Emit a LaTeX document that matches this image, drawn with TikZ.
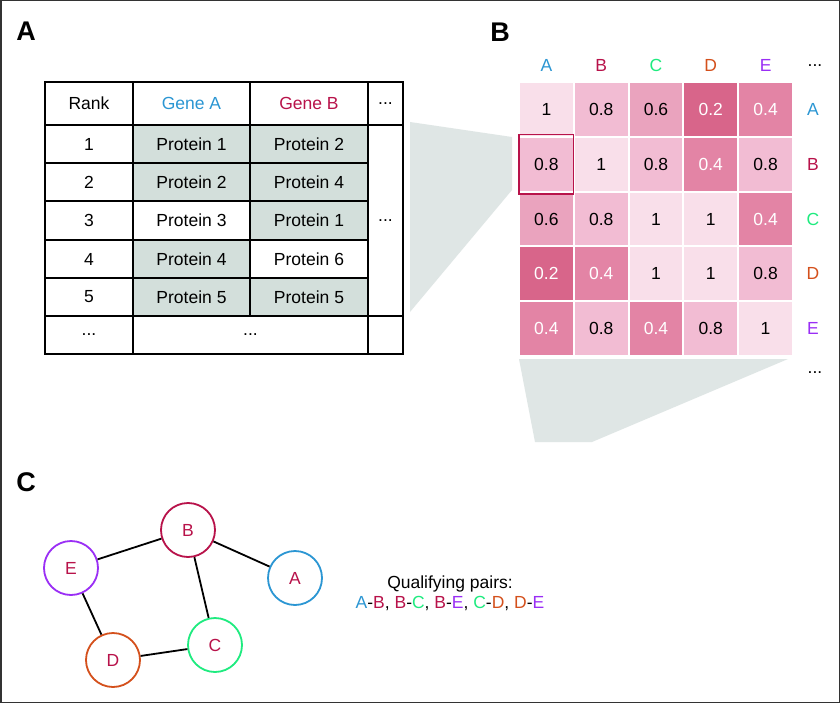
\documentclass[tikz,border=0pt]{standalone}
\usepackage{fontspec}
\setmainfont{Liberation Sans}
\definecolor{cA}{HTML}{2B96D3}
\definecolor{cB}{HTML}{B8124A}
\definecolor{cC}{HTML}{1EEB7F}
\definecolor{cD}{HTML}{D4501C}
\definecolor{cE}{HTML}{9A2EF5}
\definecolor{vA}{HTML}{F9DFEA}
\definecolor{vB}{HTML}{F2BCD3}
\definecolor{vC}{HTML}{EAA3BE}
\definecolor{vD}{HTML}{E384A5}
\definecolor{vE}{HTML}{D8658A}
\definecolor{shade}{HTML}{D3DFDB}
\definecolor{trap}{HTML}{DFE6E5}
\definecolor{frame}{HTML}{333333}
\begin{document}
\begin{tikzpicture}[x=1pt,y=-1pt,
  every node/.style={font=\fontsize{17.5}{20}\selectfont},
  cell/.style={draw=black,line width=1.7pt,inner sep=0pt,outer sep=0pt},
  hm/.style={draw=white,line width=2pt,inner sep=0pt,minimum size=54.8pt},
  panel/.style={font=\fontsize{27}{30}\selectfont\bfseries},
  gnode/.style={circle,line width=1.8pt,minimum size=54pt,inner sep=0pt,text=cB},
  gedge/.style={line width=1.8pt,black}]
\useasboundingbox (0,0) rectangle (840,703);
\fill[white] (0,0) rectangle (840,703);
\draw[line width=1.5pt,frame] (0.75,0.75) rectangle (839.25,702.25);

% panel labels
\node[panel] (lA) at (26,31) {A};
\node[panel] (lB) at (500,32) {B};
\node[panel] (lC) at (26,482) {C};

% zoom trapezoids
\fill[trap] (410,122) -- (512,137) -- (512,190) -- (410,312) -- cycle;
\fill[trap] (519,359) -- (788,359) -- (592,442) -- (535,442) -- cycle;

% table A
\node[cell,minimum width=88pt,minimum height=43pt] (t00) at (89,103.5) {Rank};
\node[cell,minimum width=117pt,minimum height=43pt,text=cA] (t01) at (191.5,103.5) {Gene A};
\node[cell,minimum width=118pt,minimum height=43pt,text=cB] (t02) at (309,103.5) {Gene B};
\node[cell,minimum width=35pt,minimum height=43pt] (t03) at (385.5,103.5) {...};
\foreach \r/\yc/\pa/\fa/\pb/\fb in {1/144/Protein 1/shade/Protein 2/shade,
  2/182/Protein 2/shade/Protein 4/shade,
  3/220.5/Protein 3/white/Protein 1/shade,
  4/259/Protein 4/shade/Protein 6/white,
  5/297/Protein 5/shade/Protein 5/shade}{
  \node[cell,minimum width=88pt,minimum height=38.3pt] (t\r0) at (89,\yc) {\r};
  \node[cell,fill=\fa,minimum width=117pt,minimum height=38.3pt] (t\r1) at (191.5,\yc) {\pa};
  \node[cell,fill=\fb,minimum width=118pt,minimum height=38.3pt] (t\r2) at (309,\yc) {\pb};
}
\node[cell,minimum width=35pt,minimum height=191pt] (tm3) at (385.5,220.5) {...};
\node[cell,minimum width=88pt,minimum height=38pt] (t60) at (89,335) {...};
\node[cell,minimum width=235pt,minimum height=38pt] (t61) at (250.5,335) {...};
\node[cell,minimum width=35pt,minimum height=38pt] (t63) at (385.5,335) {};

% heatmap B
\foreach \c/\r/\v/\col/\tc in {
 1/1/1/vA/black, 2/1/0.8/vB/black, 3/1/0.6/vC/black, 4/1/0.2/vE/white, 5/1/0.4/vD/white,
 1/2/0.8/vB/black, 2/2/1/vA/black, 3/2/0.8/vB/black, 4/2/0.4/vD/white, 5/2/0.8/vB/black,
 1/3/0.6/vC/black, 2/3/0.8/vB/black, 3/3/1/vA/black, 4/3/1/vA/black, 5/3/0.4/vD/white,
 1/4/0.2/vE/white, 2/4/0.4/vD/white, 3/4/1/vA/black, 4/4/1/vA/black, 5/4/0.8/vB/black,
 1/5/0.4/vD/white, 2/5/0.8/vB/black, 3/5/0.4/vD/white, 4/5/0.8/vB/black, 5/5/1/vA/black}{
  \node[hm,fill=\col,text=\tc] (h\r\c) at ({519+27.4+54.8*(\c-1)},{82+27.4+54.8*(\r-1)}) {\v};
}
\draw[line width=1.5pt,cB] ([shift={(1.2,-1.2)}]h21.north west) rectangle ([shift={(-1.2,1.2)}]h21.south east);
\foreach \L/\cc [count=\i] in {A/cA,B/cB,C/cC,D/cD,E/cE}{
  \node[text=\cc] (ch\L) at ({546.4+54.8*(\i-1)},65) {\L};
  \node[text=\cc] (rh\L) at (813,{109.4+54.8*(\i-1)}) {\L};
}
\node (hdots) at (815,66) {...};
\node (vdots) at (815,373) {...};

% network C
\node[gnode,draw=cB] (nB) at (188,530) {B};
\node[gnode,draw=cE] (nE) at (71,568) {E};
\node[gnode,draw=cA] (nA) at (295,578) {A};
\node[gnode,draw=cC] (nC) at (215,645) {C};
\node[gnode,draw=cD] (nD) at (113,660) {D};
\draw[gedge] (nE) -- (nB);
\draw[gedge] (nB) -- (nA);
\draw[gedge] (nB) -- (nC);
\draw[gedge] (nE) -- (nD);
\draw[gedge] (nD) -- (nC);

\node (q1) at (450,584) {Qualifying pairs:};
\node (q2) at (450,604) {\textcolor{cA}{A}-\textcolor{cB}{B}, \textcolor{cB}{B}-\textcolor{cC}{C}, \textcolor{cB}{B}-\textcolor{cE}{E}, \textcolor{cC}{C}-\textcolor{cD}{D}, \textcolor{cD}{D}-\textcolor{cE}{E}};
\end{tikzpicture}
\end{document}
